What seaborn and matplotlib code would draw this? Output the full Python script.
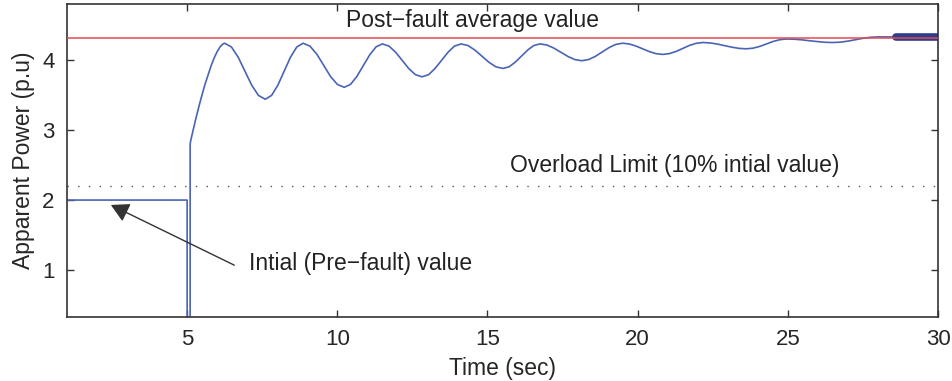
import numpy as np
import pandas as pd
import matplotlib
matplotlib.use("Agg")
import matplotlib.pyplot as plt
import seaborn as sns

# Apparent power trace (time in sec, power in p.u)
time_sec = [1.0, 5.0, 5.0, 5.1, 5.1, 5.12, 5.2, 5.3, 5.4, 5.5, 5.6, 5.7,
            5.8, 5.9, 6.0, 6.1, 6.18, 6.25,
            6.475, 6.70, 6.925, 7.15, 7.375, 7.60,
            7.81, 8.02, 8.23, 8.44, 8.65, 8.86,
            9.09, 9.32, 9.545, 9.77, 10.0, 10.23,
            10.44, 10.65, 10.865, 11.08, 11.29, 11.50,
            11.72, 11.94, 12.16, 12.38, 12.60, 12.82,
            13.04, 13.25, 13.47, 13.69, 13.90, 14.12,
            14.35, 14.58, 14.815, 15.05, 15.28, 15.51,
            15.72, 15.92, 16.13, 16.34, 16.54, 16.75,
            16.98, 17.21, 17.445, 17.68, 17.91, 18.14,
            18.37, 18.59, 18.82, 19.05, 19.27, 19.50,
            19.72, 19.94, 20.165, 20.39, 20.61, 20.83,
            21.05, 21.28, 21.50, 21.72, 21.95, 22.17,
            22.41, 22.65, 22.895, 23.14, 23.38, 23.62,
            23.84, 24.07, 24.29, 24.51, 24.74, 24.96,
            25.22, 25.47, 25.73, 25.99, 26.24, 26.50,
            26.75, 27.0, 27.25, 27.5, 27.75, 28.0, 28.6]
power_pu = [2.0, 2.0, 0.0, 0.0, 2.80, 2.85, 3.0, 3.18, 3.35, 3.51, 3.66, 3.79,
            3.92, 4.03, 4.12, 4.19, 4.225, 4.24,
            4.186, 4.04, 3.84, 3.64, 3.494, 3.44,
            3.494, 3.64, 3.84, 4.04, 4.186, 4.24,
            4.198, 4.082, 3.925, 3.767, 3.652, 3.61,
            3.652, 3.765, 3.92, 4.075, 4.188, 4.23,
            4.199, 4.112, 3.995, 3.877, 3.791, 3.76,
            3.791, 3.878, 3.995, 4.113, 4.199, 4.23,
            4.207, 4.142, 4.055, 3.967, 3.903, 3.88,
            3.903, 3.968, 4.055, 4.143, 4.207, 4.23,
            4.214, 4.17, 4.11, 4.05, 4.006, 3.99,
            4.007, 4.052, 4.115, 4.178, 4.223, 4.24,
            4.229, 4.20, 4.16, 4.12, 4.091, 4.08,
            4.091, 4.123, 4.165, 4.208, 4.239, 4.25,
            4.244, 4.228, 4.205, 4.183, 4.166, 4.16,
            4.169, 4.195, 4.23, 4.265, 4.291, 4.30,
            4.297, 4.288, 4.275, 4.263, 4.253, 4.25,
            4.255, 4.27, 4.29, 4.31, 4.325, 4.33, 4.33]

# fast oscillation band at the end of the run (drawn as a thick stroke)
band_time = [28.6, 30.0]
band_power = [4.33, 4.33]

post_fault_avg = 4.32
overload_limit = 2.2

x_ticks = [5, 10, 15, 20, 25, 30]
y_ticks = [1, 2, 3, 4]

sns.set_style("ticks")
plt.rcParams['font.family'] = ['Liberation Sans', 'DejaVu Sans']
plt.rcParams['xtick.direction'] = 'in'
plt.rcParams['ytick.direction'] = 'in'

df = pd.DataFrame({'Time': time_sec, 'Power': power_pu})
band = pd.DataFrame({'Time': band_time, 'Power': band_power})

fig = plt.figure(figsize=(9.53, 3.81), dpi=100)
ax = fig.add_axes([0.0703, 0.168, 0.914, 0.8215])

sns.lineplot(data=df, x='Time', y='Power', estimator=None, sort=False,
             color='#4a64b4', linewidth=1.2, ax=ax)
sns.lineplot(data=band, x='Time', y='Power', estimator=None, sort=False,
             color='#2c3f8f', linewidth=5.5, ax=ax)

ax.axhline(post_fault_avg, color='#e8494d', linewidth=1.1, zorder=5)
ax.axhline(overload_limit, color='#555555', linewidth=1.0,
           linestyle=(0, (1, 6.7)))

ax.set_xlim(1, 30)
ax.set_ylim(0.33, 4.8)
ax.set_xticks(x_ticks)
ax.set_yticks(y_ticks)
ax.tick_params(axis='both', labelsize=16, length=5, width=1,
               color='#333333', top=True, right=True, pad=9)
for s in ax.spines.values():
    s.set_color('#333333')
    s.set_linewidth(1.2)

ax.set_xlabel('Time (sec)', fontsize=16.5, labelpad=5)
ax.set_ylabel('Apparent Power (p.u)', fontsize=16.5, labelpad=5)

ax.text(14.5, 4.57, 'Post\u2212fault average value', fontsize=16.5,
        ha='center', va='center', color='#222222')
ax.text(21.23, 2.5, 'Overload Limit (10% intial value)', fontsize=16.5,
        ha='center', va='center', color='#222222')
ax.text(7.07, 1.1, 'Intial (Pre\u2212fault) value', fontsize=16.5,
        ha='left', va='center', color='#222222')
ax.annotate('', xy=(2.46, 1.93), xytext=(6.57, 1.07),
            arrowprops=dict(arrowstyle='-|>,head_length=0.55,head_width=0.3',
                            color='#333333', lw=1.0, mutation_scale=20,
                            shrinkA=0, shrinkB=0))

fig.savefig('out.png', dpi=100)
